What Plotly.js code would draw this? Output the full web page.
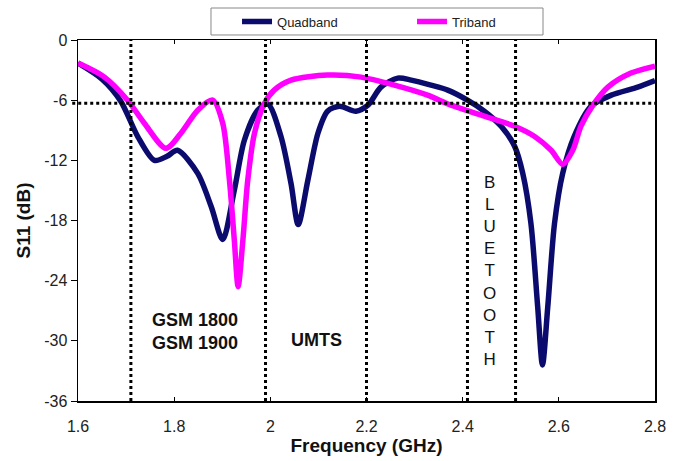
<!DOCTYPE html>
<html>
<head>
<meta charset="utf-8">
<script src="https://cdn.plot.ly/plotly-3.0.1.min.js"></script>
<style>html,body{margin:0;padding:0;background:#fff;}#chart{width:685px;height:461px;}</style>
</head>
<body>
<div id="chart"></div>
<script>
// Quadband antenna S11 (dB) vs frequency (GHz)
var quadFreq = [1.6, 1.65, 1.689, 1.724, 1.759, 1.785, 1.807, 1.849, 1.877, 1.901, 1.925, 1.946, 1.974, 1.995, 2.022, 2.043, 2.058, 2.078, 2.099, 2.119, 2.144, 2.178, 2.203, 2.230, 2.265, 2.293, 2.334, 2.369, 2.41, 2.445, 2.480, 2.508, 2.525, 2.542, 2.556, 2.566, 2.577, 2.591, 2.608, 2.632, 2.667, 2.709, 2.764, 2.8];
var quadS11  = [-2.3, -3.9, -6.1, -9.6, -12.0, -11.6, -11.0, -13.3, -16.6, -19.9, -15.0, -10.0, -7.0, -6.4, -9.6, -14.3, -18.4, -14.0, -9.3, -7.1, -6.6, -7.1, -6.5, -4.7, -3.8, -4.0, -4.5, -5.0, -6.0, -7.1, -8.6, -10.6, -13.3, -18.3, -26.6, -32.4, -26.6, -18.3, -13.3, -9.6, -6.6, -5.5, -4.7, -4.05];

// Triband antenna S11 (dB) vs frequency (GHz)
var triFreq = [1.6, 1.655, 1.703, 1.738, 1.783, 1.814, 1.849, 1.880, 1.901, 1.915, 1.925, 1.933, 1.943, 1.953, 1.967, 1.988, 2.008, 2.043, 2.119, 2.189, 2.258, 2.327, 2.376, 2.445, 2.508, 2.549, 2.584, 2.608, 2.629, 2.646, 2.671, 2.702, 2.750, 2.8];
var triS11  = [-2.3, -3.7, -6.0, -8.3, -10.8, -9.3, -7.0, -6.0, -8.3, -14.0, -19.9, -24.6, -19.9, -14.0, -9.3, -6.3, -5.0, -4.0, -3.5, -3.7, -4.5, -5.5, -6.5, -7.6, -8.6, -9.6, -11.0, -12.4, -11.0, -8.6, -6.5, -4.7, -3.3, -2.6];

// Reference markers
var bandEdges = [1.71, 1.99, 2.2, 2.41, 2.51];   // vertical dotted lines (GHz)
var threshold = -6.3;                             // horizontal dotted line (dB)

// Tick labels
var xTicks = [1.6, 1.8, 2.0, 2.2, 2.4, 2.6, 2.8];
var xTickText = ['1.6', '1.8', '2', '2.2', '2.4', '2.6', '2.8'];
var yTicks = [0, -6, -12, -18, -24, -30, -36];
var yTickText = ['0', '-6', '-12', '-18', '-24', '-30', '-36'];

// Band labels
var bandLabels = [
  {text: 'GSM 1800<br>GSM 1900', x: 1.843, y: -29.1},
  {text: 'UMTS', x: 2.097, y: -29.9}
];
var btLabel = {text: 'B<br>L<br>U<br>E<br>T<br>O<br>O<br>T<br>H', x: 2.455, y: -23.0};

var FONT = 'Arial, Liberation Sans, sans-serif';

var traces = [
  {x: quadFreq, y: quadS11, name: 'Quadband', mode: 'lines', legend: 'legend',
   line: {color: '#0b0b6e', width: 5.5, shape: 'spline', smoothing: 0.8}},
  {x: triFreq, y: triS11, name: 'Triband', mode: 'lines', legend: 'legend2',
   line: {color: '#ff00ff', width: 5.5, shape: 'spline', smoothing: 0.8}}
];

var shapes = bandEdges.map(function (f) {
  return {type: 'line', xref: 'x', yref: 'y', x0: f, x1: f, y0: -36, y1: 0,
          line: {color: '#000', width: 3, dash: '3px,3px'}, layer: 'above'};
});
shapes.push({type: 'line', xref: 'paper', yref: 'y', x0: -0.01, x1: 1, y0: threshold, y1: threshold,
             line: {color: '#000', width: 3, dash: '3px,3px'}, layer: 'above'});
// legend frame
shapes.push({type: 'rect', xref: 'paper', yref: 'paper', x0: 0.2305, x1: 0.8059, y0: 1.0139, y1: 1.0886,
             line: {color: '#888', width: 1}, fillcolor: 'rgba(0,0,0,0)', layer: 'below'});

var annotations = bandLabels.map(function (b) {
  return {text: b.text, x: b.x, y: b.y, xref: 'x', yref: 'y', showarrow: false,
          font: {family: FONT, size: 18, color: '#111', weight: 'bold'}};
});
annotations.push({text: btLabel.text, x: btLabel.x, y: btLabel.y, xref: 'x', yref: 'y', showarrow: false,
                  font: {family: FONT, size: 17, color: '#111'}});

var legendStyle = function (xpos) {
  return {orientation: 'h', x: xpos, xanchor: 'left', y: 1.0512, yanchor: 'middle',
          borderwidth: 0, bgcolor: 'rgba(0,0,0,0)', font: {family: FONT, size: 13, color: '#222'}};
};

var layout = {
  width: 685, height: 461,
  margin: {l: 78, r: 30, t: 40, b: 60, autoexpand: false},
  paper_bgcolor: '#fff', plot_bgcolor: '#fff',
  font: {family: FONT, color: '#222'},
  xaxis: {range: [1.6, 2.8], tickvals: xTicks, ticktext: xTickText,
          showgrid: false, zeroline: false, showline: true, mirror: 'ticks',
          linecolor: '#000', linewidth: 1.5, ticks: 'inside', ticklen: 4, tickcolor: '#000',
          ticklabelstandoff: 10,
          tickfont: {size: 16, color: '#222'},
          title: {text: 'Frequency (GHz)', standoff: 2, font: {size: 19, color: '#111', weight: 'bold'}}},
  yaxis: {range: [-36, 0], tickvals: yTicks, ticktext: yTickText,
          showgrid: false, zeroline: false, showline: true, mirror: true,
          linecolor: '#000', linewidth: 1.5, ticks: 'outside', ticklen: 6, tickcolor: '#000',
          tickfont: {size: 16, color: '#222'},
          title: {text: 'S11 (dB)', standoff: 8, font: {size: 19, color: '#111', weight: 'bold'}}},
  showlegend: true,
  legend: legendStyle(0.2756),
  legend2: legendStyle(0.5789),
  shapes: shapes,
  annotations: annotations
};

Plotly.newPlot('chart', traces, layout, {displayModeBar: false, staticPlot: true});
</script>
</body>
</html>
